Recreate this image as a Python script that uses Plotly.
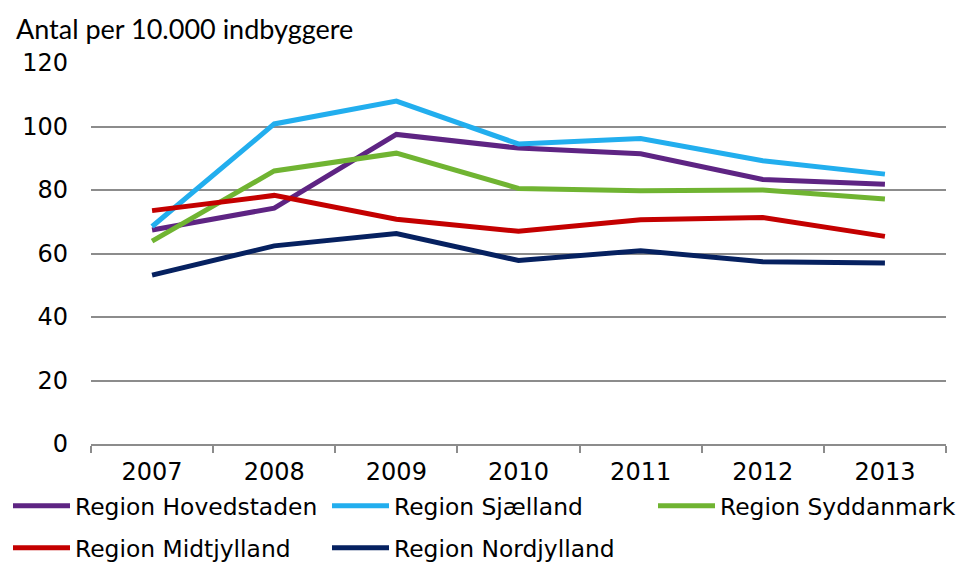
import plotly.graph_objects as go

years = ["2007", "2008", "2009", "2010", "2011", "2012", "2013"]
hovedstaden = [67.4, 74.3, 97.5, 93.2, 91.4, 83.3, 81.8]
sjaelland = [68.5, 100.8, 108.0, 94.5, 96.2, 89.2, 85.0]
syddanmark = [63.9, 86.0, 91.6, 80.5, 79.8, 80.0, 77.2]
midtjylland = [73.5, 78.3, 70.8, 67.0, 70.6, 71.3, 65.4]
nordjylland = [53.2, 62.4, 66.3, 57.8, 60.9, 57.4, 57.0]

# The page body has an 8px margin, so the figure is 960x555 drawn at (8, 8).
W, H = 960, 555

series = [
    ("Region Hovedstaden", hovedstaden, "#5E2483"),
    ("Region Sjælland", sjaelland, "#22AEEE"),
    ("Region Syddanmark", syddanmark, "#70B432"),
    ("Region Midtjylland", midtjylland, "#C40000"),
    ("Region Nordjylland", nordjylland, "#062160"),
]
# legend slot (column x start, row centre y) in figure pixels
legend_slots = [(0, 498), (333, 498), (659, 498), (0, 540), (333, 540)]

fig = go.Figure()
layout_legends = {}
for i, ((name, vals, col), (lx, ly)) in enumerate(zip(series, legend_slots)):
    key = "legend" if i == 0 else f"legend{i+1}"
    fig.add_trace(go.Scatter(x=years, y=vals, name=name, mode="lines", legend=key,
                             line=dict(color=col, width=5)))
    layout_legends[key] = dict(
        orientation="h", xref="container", xanchor="left",
        x=max(lx - 14, 0) / W, yref="container", yanchor="middle", y=1 - ly / H,
        itemwidth=57, font=dict(family="DejaVu Sans", size=23.4, color="#000000"),
        bgcolor="rgba(0,0,0,0)")

fig.update_layout(
    width=W, height=H,
    paper_bgcolor="white", plot_bgcolor="white",
    margin=dict(l=83, r=22, t=55, b=119, autoexpand=False),
    font=dict(family="DejaVu Sans", size=24, color="#000000"),
    title=dict(text="Antal per 10.000 indbyggere", x=8 / W, xref="container", xanchor="left",
               y=1 - 22 / H, yref="container", yanchor="middle",
               font=dict(family="Lato", size=27, color="#000000")),
    showlegend=True,
    **layout_legends,
)
fig.update_xaxes(type="category", range=[-0.5, 6.5], showgrid=False,
                 showline=True, linecolor="#8C8C8C", linewidth=1.5,
                 ticks="outside", tickson="boundaries", ticklen=7, tickcolor="#8C8C8C",
                 tickwidth=1.5, ticklabelstandoff=5, tickfont=dict(size=24))
fig.update_yaxes(range=[0, 120], dtick=20, showgrid=True, gridcolor="#8C8C8C", gridwidth=1.5,
                 showline=False, zeroline=False, ticks="", ticklabelstandoff=22,
                 tickfont=dict(size=24))

fig.write_html("out.html")
